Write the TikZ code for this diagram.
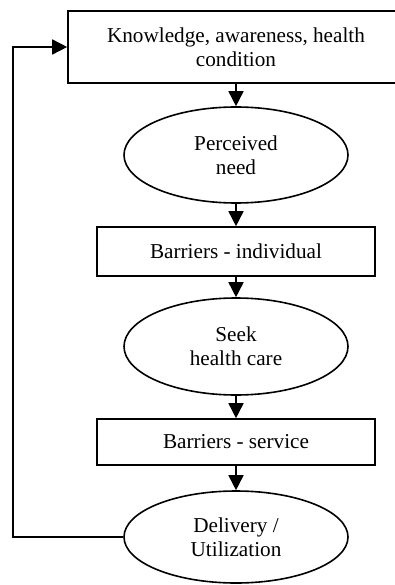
\documentclass[tikz,border=0pt]{standalone}
\usepackage{fontspec}
\setmainfont{Liberation Serif}
\usetikzlibrary{shapes.geometric,arrows.meta}

\begin{document}
\begin{tikzpicture}[x=1pt,y=-1pt,
    every node/.style={font=\fontsize{21.2}{23.6}\selectfont,align=center},
    stage/.style={draw,line width=1.6pt,rectangle,minimum width=278pt,inner sep=0pt},
    oval/.style={draw,line width=1.6pt,ellipse,minimum width=224pt,minimum height=96pt,inner sep=0pt},
    flow/.style={line width=1.6pt,-{Triangle[width=15pt,length=15pt]}}]
    \useasboundingbox (0,0) rectangle (395,585);

    \begin{scope}
      \clip (0,0) rectangle (395,585);

      \node[stage,minimum width=336pt,minimum height=72pt] (know) at (236,47)
        {Knowledge, awareness, health\\condition};
      \node[oval] (need) at (236,155) {Perceived\\need};
      \node[stage,minimum height=49pt] (bind) at (236,251.5) {Barriers - individual};
      \node[oval,minimum height=97pt] (seek) at (236,346.5) {Seek\\health care};
      \node[stage,minimum height=46pt] (bserv) at (236,442) {Barriers - service};
      \node[oval,minimum height=92pt] (deliv) at (236,537) {Delivery /\\Utilization};

      \draw[flow] (know) -- (need);
      \draw[flow] (need) -- (bind);
      \draw[flow] (bind) -- (seek);
      \draw[flow] (seek) -- (bserv);
      \draw[flow] (bserv) -- (deliv);

      % feedback loop
      \coordinate (back) at (13,537);
      \draw[flow] (deliv.west) -- (back) |- (know.west);
    \end{scope}
\end{tikzpicture}
\end{document}
